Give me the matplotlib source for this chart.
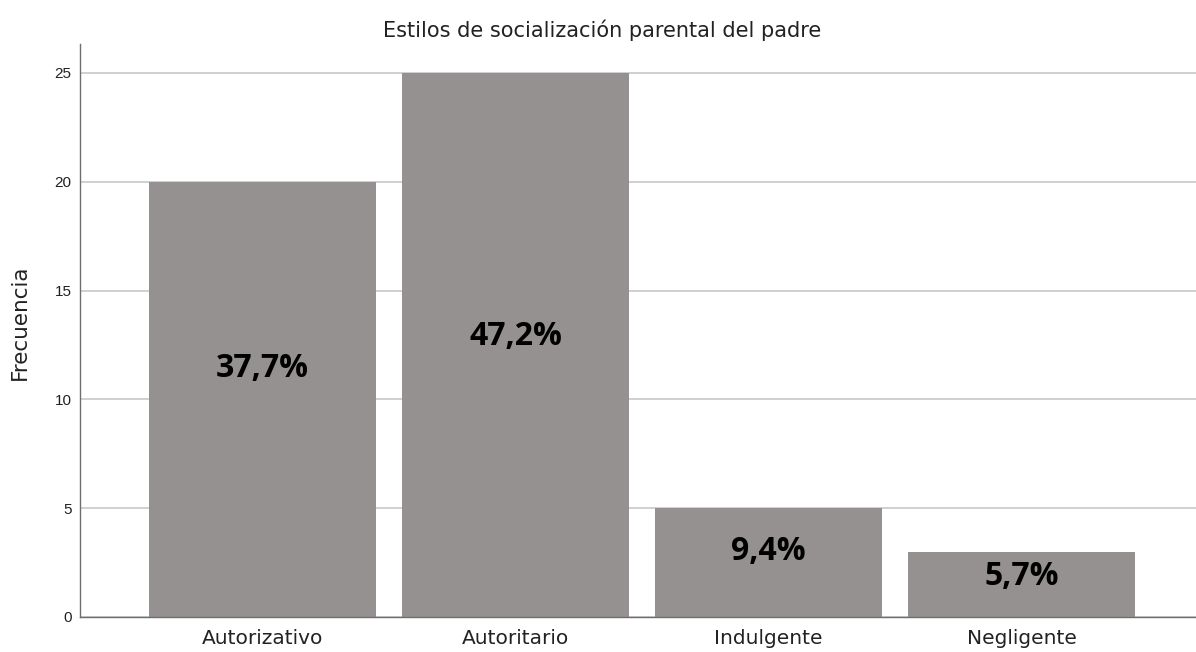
import matplotlib
matplotlib.use("Agg")
import matplotlib.pyplot as plt

categories = ["Autorizativo", "Autoritario", "Indulgente", "Negligente"]
frequencies = [20, 25, 5, 3]
pct_labels = ["37,7%", "47,2%", "9,4%", "5,7%"]
label_y = [11.4, 12.9, 3.0, 1.85]
yticks = [0, 5, 10, 15, 20, 25]

fig = plt.figure(figsize=(11.96, 6.52), dpi=100)
ax = fig.add_axes([80/1196, 35/652, 1 - 80/1196, (617-44)/652])

x = list(range(len(categories)))
ax.bar(x, frequencies, width=0.897, color="#959190", zorder=2)

ax.set_xlim(-0.7213, 3.6897)
ax.set_ylim(0, 26.33)
ax.set_yticks(yticks)
ax.set_yticklabels([str(t) for t in yticks], fontsize=11, family="Liberation Sans", color="#222222")
ax.set_xticks(x)
ax.set_xticklabels(categories, fontsize=14.5, family="DejaVu Sans", color="#222222")
ax.tick_params(axis="both", length=0)
ax.tick_params(axis="y", pad=6)
ax.tick_params(axis="x", pad=9)

ax.yaxis.grid(True, color="#c8c8c8", linewidth=1.2, zorder=0)
ax.set_axisbelow(True)
for s in ["top", "right"]:
    ax.spines[s].set_visible(False)
for s in ["left", "bottom"]:
    ax.spines[s].set_color("#6e6e6e")
    ax.spines[s].set_linewidth(1.0)

ax.set_ylabel("Frecuencia", fontsize=15.5, family="DejaVu Sans", color="#222222", va="center")
ax.yaxis.set_label_coords(-60/1116, (617-322.5)/573)
fig.text(602.5/1196, 1 - 30/652, "Estilos de socialización parental del padre",
         ha="center", va="center", fontsize=15, family="DejaVu Sans", color="#222222")

for xi, lab, ly in zip(x, pct_labels, label_y):
    ax.text(xi, ly, lab, ha="center", va="center", fontsize=23, fontweight="bold",
            family="Open Sans", color="black", zorder=3)

fig.savefig("out.png", dpi=100)
